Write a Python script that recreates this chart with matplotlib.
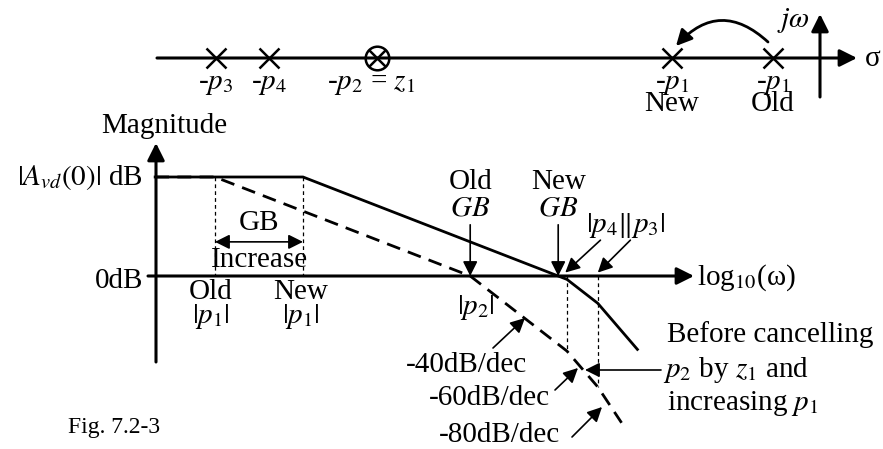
import matplotlib
matplotlib.use("Agg")
import matplotlib.pyplot as plt

plt.rcParams['font.family'] = ['Liberation Serif', 'DejaVu Serif']
plt.rcParams['mathtext.fontset'] = 'stix'

# pole / zero positions on the sigma axis (1 unit = 100 px, origin at jw axis)
pole_sigma = [-6.04, -5.51, -1.48, -0.47]
pole_names = [r'-$p_3$', r'-$p_4$', r'-$p_1$', r'-$p_1$']
pole_notes = ['', '', 'New', 'Old']
zero_sigma = [-4.43]

# Bode asymptotes: log10(w) in decades, magnitude in dB
old_w = [0.32, 1.0, 3.9, 5.0, 5.35, 5.62]
old_db = [58, 58, 0, -44, -65, -86]
new_w = [0.32, 2.0, 4.9, 5.0, 5.35, 5.8]
new_db = [58, 58, 0, -2, -16, -43]

p1_old, p1_new = 1.0, 2.0
p2 = 3.9
p4, p3 = 5.0, 5.35
gb_old, gb_new = 3.9, 4.9

FS = 21

fig = plt.figure(figsize=(8.83, 4.49), dpi=100)

# overlay in pixel coords for text / axes arrows
ax = fig.add_axes([0, 0, 1, 1])
ax.set_xlim(0, 883)
ax.set_ylim(449, 0)
ax.axis('off')

# pole-zero axes
pz = fig.add_axes([0, 0, 1, 1])
pz.set_xlim(-8.2, 0.63)
pz.set_ylim(-3.91, 0.58)
pz.axis('off')

# bode axes
bx = fig.add_axes([0, 0, 1, 1])
bx.set_xlim(1 - 215 / 88, 1 - 215 / 88 + 883 / 88)
k = 58 / 99
bx.set_ylim(-173 * k, -173 * k + 449 * k)
bx.axis('off')

arr = dict(arrowstyle='-|>', color='k', lw=1.2, mutation_scale=22, shrinkA=0, shrinkB=0)
big = dict(arrowstyle='-|>', color='k', lw=2.2, mutation_scale=26, shrinkA=0, shrinkB=0)

# ---- top: s-plane
ax.annotate('', xy=(857, 58), xytext=(157, 58), arrowprops=big)
ax.annotate('', xy=(820, 14), xytext=(820, 97), arrowprops=big)
ax.text(865, 59, r'σ', fontsize=FS, va='center', ha='left')
ax.text(793, 27, r'$j\omega$', fontsize=FS, ha='center', va='baseline')

pz.plot(pole_sigma, [0] * len(pole_sigma), 'x', color='k', ms=14, mew=1.8)
pz.plot(zero_sigma, [0], 'o', mfc='none', mec='k', ms=17, mew=1.8)
pz.plot(zero_sigma, [0], 'x', color='k', ms=11, mew=1.8)
for s, nm, note in zip(pole_sigma, pole_names, pole_notes):
    xp = 820 + s * 100
    ax.text(xp, 89, nm, fontsize=FS, ha='center', va='baseline')
    if note:
        ax.text(xp, 111, note, fontsize=FS, ha='center', va='baseline')
ax.text(820 + zero_sigma[0] * 100 - 6, 89, r'-$p_2$ = $z_1$', fontsize=FS, ha='center', va='baseline')

# curved arrow old p1 -> new p1
ax.annotate('', xy=(676, 46), xytext=(768, 42),
            arrowprops=dict(arrowstyle='-|>', color='k', lw=2.0, mutation_scale=24,
                            shrinkA=0, shrinkB=0, connectionstyle='arc3,rad=0.5'))

# ---- bode axes
ax.annotate('', xy=(156, 143), xytext=(156, 362), arrowprops=big)
ax.annotate('', xy=(694, 276), xytext=(148, 276), arrowprops=big)
ax.text(101, 133, 'Magnitude', fontsize=FS, ha='left', va='baseline')
ax.text(143, 185, r'$|A_{vd}(0)|$ dB', fontsize=FS, ha='right', va='baseline')
ax.text(143, 288, '0dB', fontsize=FS, ha='right', va='baseline')
ax.text(697, 285, r'log$_{10}$(ω)', fontsize=FS, ha='left', va='baseline')

bx.plot(new_w, new_db, color='k', lw=2.0, solid_joinstyle='miter')
bx.plot(old_w, old_db, color='k', lw=2.0, ls=(0, (5, 3)))

# vertical guide lines
for w, top, bot in [(p1_old, 58, 0), (p1_new, 58, 0)]:
    bx.plot([w, w], [top, bot], color='k', lw=0.9, ls=(0, (3, 2.5)))
bx.plot([p4, p4], [0, -44], color='k', lw=0.9, ls=(0, (3, 2.5)))
bx.plot([p3, p3], [0, -65], color='k', lw=0.9, ls=(0, (3, 2.5)))

# GB increase
bx.annotate('', xy=(p1_old, 20), xytext=(p1_new, 20),
            arrowprops=dict(arrowstyle='<|-|>', color='k', lw=1.2, mutation_scale=22, shrinkA=0, shrinkB=0))
ax.text(259, 230, 'GB', fontsize=FS, ha='center', va='baseline')
ax.text(259, 267, 'Increase', fontsize=FS, ha='center', va='baseline')
ax.text(211, 299, 'Old', fontsize=FS, ha='center', va='baseline')
ax.text(211, 323, r'$|p_1|$', fontsize=FS, ha='center', va='baseline')
ax.text(301, 299, 'New', fontsize=FS, ha='center', va='baseline')
ax.text(301, 323, r'$|p_1|$', fontsize=FS, ha='center', va='baseline')

# GB markers
for w, lab in [(gb_old, 'Old'), (gb_new, 'New')]:
    xp = 215 + (w - 1) * 88
    ax.text(xp, 189, lab, fontsize=FS, ha='center', va='baseline')
    ax.text(xp, 215, r'$GB$', fontsize=FS, ha='center', va='baseline')
    bx.annotate('', xy=(w, 0), xytext=(w, 30), arrowprops=arr)

ax.text(626, 232, r'$|p_4\|p_3|$', fontsize=FS, ha='center', va='baseline')
bx.annotate('', xy=(p4 - 0.02, 2), xytext=(p4 + 0.38, 21), arrowprops=arr)
bx.annotate('', xy=(p3, 2), xytext=(p3 + 0.37, 21), arrowprops=arr)

ax.text(476, 314, r'$|p_2|$', fontsize=FS, ha='center', va='baseline')

# slope labels
ax.text(527, 372, '-40dB/dec', fontsize=FS, ha='right', va='baseline')
ax.text(550, 405, '-60dB/dec', fontsize=FS, ha='right', va='baseline')
ax.text(560, 442, '-80dB/dec', fontsize=FS, ha='right', va='baseline')
ax.annotate('', xy=(525, 318), xytext=(493, 348), arrowprops=arr)
ax.annotate('', xy=(578, 368), xytext=(555, 390), arrowprops=arr)
ax.annotate('', xy=(602, 407), xytext=(572, 437), arrowprops=arr)

ax.text(667, 342, 'Before cancelling', fontsize=FS, ha='left', va='baseline')
ax.text(663, 377, r'$p_2$ by $z_1$ and', fontsize=FS, ha='left', va='baseline')
ax.text(667, 410, r'increasing $p_1$', fontsize=FS, ha='left', va='baseline')
ax.annotate('', xy=(585, 370), xytext=(661, 370), arrowprops=arr)

ax.text(68, 433, 'Fig. 7.2-3', fontsize=17, ha='left', va='baseline')

fig.savefig('out.png', dpi=100)
